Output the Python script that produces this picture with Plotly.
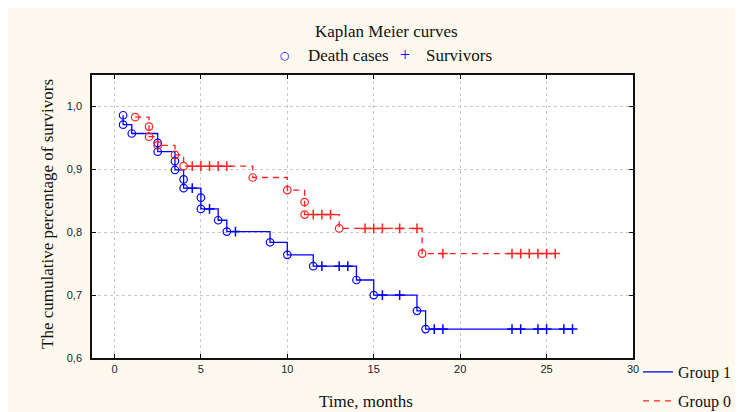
import plotly.graph_objects as go

# ---- data ----
g1_death_x = [0.5, 0.5, 1.0, 2.5, 2.5, 3.5, 3.5, 4.0, 4.0, 5.0, 5.0, 6.0, 6.5, 9.0, 10.0, 11.5, 14.0, 15.0, 17.5, 18.0]
g1_death_y = [0.986, 0.971, 0.957, 0.942, 0.928, 0.913, 0.899, 0.884, 0.870, 0.855, 0.837, 0.819, 0.801, 0.784, 0.764, 0.746, 0.724, 0.700, 0.675, 0.646]
g1_cens_x = [4.5, 5.5, 7.0, 12.0, 13.0, 13.5, 15.5, 16.5, 18.5, 19.0, 23.0, 23.5, 24.5, 25.0, 26.0, 26.5]
g1_cens_y = [0.870, 0.837, 0.801, 0.746, 0.746, 0.746, 0.700, 0.700, 0.646, 0.646, 0.646, 0.646, 0.646, 0.646, 0.646, 0.646]

g0_death_x = [1.2, 2.0, 2.0, 2.5, 3.5, 4.0, 8.0, 10.0, 11.0, 11.0, 13.0, 17.8]
g0_death_y = [0.983, 0.968, 0.952, 0.938, 0.923, 0.905, 0.887, 0.867, 0.848, 0.828, 0.806, 0.766]
g0_cens_x = [4.5, 5.0, 5.5, 6.0, 6.5, 11.5, 12.0, 12.5, 14.5, 15.0, 15.5, 16.5, 17.5, 19.0, 23.0, 23.5, 24.0, 24.5, 25.0, 25.5]
g0_cens_y = [0.905, 0.905, 0.905, 0.905, 0.905, 0.828, 0.828, 0.828, 0.806, 0.806, 0.806, 0.806, 0.806, 0.766, 0.766, 0.766, 0.766, 0.766, 0.766, 0.766]

g1_end_x = 26.5
g0_end_x = 25.5

title_text = "Kaplan Meier curves"
x_title = "Time, months"
y_title = "The cumulative percentage of survivors"
x_ticks = [0, 5, 10, 15, 20, 25, 30]
y_ticks = [0.6, 0.7, 0.8, 0.9, 1.0]

BLUE = "#0000ff"
RED = "#ff2020"
SERIF = "Liberation Serif"
SANS = "Liberation Sans"
FS = 17

fig = go.Figure()

# step lines
fig.add_trace(go.Scatter(
    x=g1_death_x + [g1_end_x], y=g1_death_y + [g1_death_y[-1]],
    mode="lines", line=dict(color=BLUE, width=1.3, shape="hv"),
    name="Group 1", legend="legend"))
fig.add_trace(go.Scatter(
    x=g0_death_x + [g0_end_x], y=g0_death_y + [g0_death_y[-1]],
    mode="lines", line=dict(color=RED, width=1.3, shape="hv", dash="6px,5px"),
    name="Group 0", legend="legend2"))

# markers
fig.add_trace(go.Scatter(x=g1_death_x, y=g1_death_y, mode="markers", showlegend=False,
                         marker=dict(symbol="circle-open", size=7.5, color=BLUE, line=dict(width=1.2, color=BLUE))))
fig.add_trace(go.Scatter(x=g1_cens_x, y=g1_cens_y, mode="markers", showlegend=False,
                         marker=dict(symbol="cross-thin-open", size=7, color=BLUE, line=dict(width=1.5, color=BLUE))))
fig.add_trace(go.Scatter(x=g0_death_x, y=g0_death_y, mode="markers", showlegend=False,
                         marker=dict(symbol="circle-open", size=7.5, color=RED, line=dict(width=1.2, color=RED))))
fig.add_trace(go.Scatter(x=g0_cens_x, y=g0_cens_y, mode="markers", showlegend=False,
                         marker=dict(symbol="cross-thin-open", size=7, color=RED, line=dict(width=1.5, color=RED))))

OFF = 8  # page body margin
W, H = 735, 404
L, T = 92 - OFF, 75 - OFF
R = W - (633 - OFF)
B = H - (358 - OFF)
pw, ph = W - L - R, H - T - B

def px2paper_x(px):
    return (px - OFF - L) / pw

def px2paper_y(py):
    return (H - B - (py - OFF)) / ph

CREAM = "#fdf9ef"
LEG_FONT = dict(family=SERIF, size=16, color="#111")

fig.update_layout(
    width=W, height=H,
    margin=dict(l=L, r=R, t=T, b=B, pad=0, autoexpand=False),
    paper_bgcolor=CREAM,
    plot_bgcolor="white",
    separators=",.",
    showlegend=True,
    legend=dict(x=px2paper_x(638), y=px2paper_y(355), xanchor="left", yanchor="top",
                bgcolor="rgba(0,0,0,0)", itemwidth=30, font=LEG_FONT),
    legend2=dict(x=px2paper_x(638), y=px2paper_y(384), xanchor="left", yanchor="top",
                 bgcolor="rgba(0,0,0,0)", itemwidth=30, font=LEG_FONT),
    annotations=[
        dict(text=title_text, xref="paper", yref="paper", x=px2paper_x(386), y=px2paper_y(31),
             showarrow=False, xanchor="center", yanchor="middle",
             font=dict(family=SERIF, size=FS, color="#111")),
        dict(text="○", xref="paper", yref="paper", x=px2paper_x(285), y=px2paper_y(56),
             showarrow=False, xanchor="center", yanchor="middle",
             font=dict(family="DejaVu Sans", size=11, color=BLUE)),
        dict(text="Death cases", xref="paper", yref="paper", x=px2paper_x(306), y=px2paper_y(56),
             showarrow=False, xanchor="left", yanchor="middle",
             font=dict(family=SERIF, size=FS, color="#111")),
        dict(text="+", xref="paper", yref="paper", x=px2paper_x(405), y=px2paper_y(55),
             showarrow=False, xanchor="center", yanchor="middle",
             font=dict(family=SERIF, size=18, color=BLUE)),
        dict(text="Survivors", xref="paper", yref="paper", x=px2paper_x(424), y=px2paper_y(56),
             showarrow=False, xanchor="left", yanchor="middle",
             font=dict(family=SERIF, size=FS, color="#111")),
        dict(text=x_title, xref="paper", yref="paper", x=px2paper_x(366), y=px2paper_y(401),
             showarrow=False, xanchor="center", yanchor="middle",
             font=dict(family=SERIF, size=FS, color="#111")),
        dict(text=y_title, xref="paper", yref="paper", x=px2paper_x(47), y=px2paper_y(214),
             showarrow=False, xanchor="center", yanchor="middle", textangle=-90,
             font=dict(family=SERIF, size=FS, color="#111")),
    ],
)

axis_common = dict(
    showline=True, linecolor="#111", linewidth=1.5, mirror="ticks",
    ticks="inside", ticklen=4, tickcolor="#111", tickwidth=1,
    showgrid=True, gridcolor="#c8c8c8", griddash="dot", gridwidth=1,
    zeroline=False,
    tickfont=dict(family=SANS, size=11, color="#222"),
)

fig.update_xaxes(range=[-1.3, 30], tickvals=x_ticks, **axis_common)
fig.update_yaxes(range=[0.6, 1.05], tickvals=y_ticks, tickformat=".1f", ticklabelstandoff=6, **axis_common)

fig.write_html("out.html")
